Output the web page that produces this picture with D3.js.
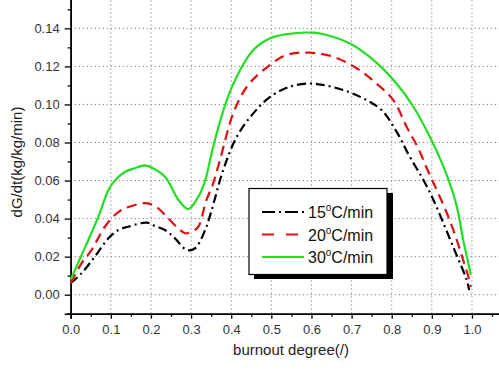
<!DOCTYPE html>
<html>
<head>
<meta charset="utf-8">
<script src="https://cdn.jsdelivr.net/npm/d3@7"></script>
<style>
  body { margin: 0; background: #fff; }
  svg { display: block; font-family: "Liberation Sans", Arial, sans-serif; }
</style>
</head>
<body>
<div id="chart"></div>
<script>
// burnout degree / rate readings for each heating rate
var burnout15 = [0, 0.027, 0.06, 0.094, 0.119, 0.143, 0.189, 0.21, 0.235, 0.26, 0.289, 0.31, 0.335, 0.35, 0.38, 0.414, 0.455, 0.497, 0.546, 0.596, 0.63, 0.679, 0.729, 0.775, 0.812, 0.845, 0.879, 0.904, 0.929, 0.953, 0.974, 0.987, 0.993];
var rate15 = [0.006, 0.0112, 0.020, 0.0296, 0.034, 0.0357, 0.0379, 0.0361, 0.034, 0.0296, 0.0235, 0.0244, 0.034, 0.0435, 0.0655, 0.083, 0.0953, 0.104, 0.1093, 0.111, 0.1102, 0.1076, 0.1032, 0.097, 0.0857, 0.0725, 0.0603, 0.0498, 0.0375, 0.0252, 0.0147, 0.0077, 0.0025];

var burnout20 = [0, 0.027, 0.052, 0.085, 0.115, 0.135, 0.177, 0.193, 0.218, 0.235, 0.268, 0.285, 0.30, 0.318, 0.337, 0.355, 0.372, 0.405, 0.439, 0.48, 0.538, 0.596, 0.654, 0.713, 0.762, 0.804, 0.837, 0.866, 0.891, 0.916, 0.941, 0.962, 0.978, 0.991, 0.997];
var rate20 = [0.006, 0.0165, 0.0235, 0.0357, 0.0428, 0.0454, 0.048, 0.048, 0.0454, 0.0419, 0.0349, 0.0323, 0.033, 0.0357, 0.049, 0.0585, 0.0708, 0.0953, 0.1093, 0.118, 0.126, 0.1272, 0.1251, 0.119, 0.111, 0.1023, 0.0883, 0.077, 0.0647, 0.0533, 0.041, 0.0288, 0.0182, 0.0095, 0.004];

var burnout30 = [0, 0.036, 0.069, 0.094, 0.11, 0.135, 0.16, 0.185, 0.2, 0.235, 0.268, 0.293, 0.318, 0.335, 0.355, 0.389, 0.422, 0.455, 0.497, 0.538, 0.605, 0.638, 0.696, 0.754, 0.812, 0.854, 0.895, 0.929, 0.953, 0.966, 0.978, 0.991, 0.997];
var rate30 = [0.008, 0.025, 0.041, 0.055, 0.060, 0.0645, 0.0665, 0.068, 0.067, 0.062, 0.050, 0.045, 0.0515, 0.060, 0.0778, 0.1023, 0.118, 0.1286, 0.1348, 0.137, 0.1377, 0.1365, 0.132, 0.1234, 0.111, 0.0988, 0.083, 0.0673, 0.0533, 0.0428, 0.0288, 0.0165, 0.0104];

var seriesNames = ["15", "20", "30"];
var xTicks = [0, 0.1, 0.2, 0.3, 0.4, 0.5, 0.6, 0.7, 0.8, 0.9, 1.0];
var yTicks = [0, 0.02, 0.04, 0.06, 0.08, 0.10, 0.12, 0.14];

var svgWidth = 499;
var svgHeight = 372;

var svg = d3.select("#chart")
    .append("svg")
    .attr("width", svgWidth)
    .attr("height", svgHeight);

// plot is cut off at the top and right edge of the picture
var x = d3.scaleLinear().domain([0, 1.1]).range([70.7, 512.1]);
var y = d3.scaleLinear().domain([-0.01, 0.16]).range([313.7, -9.7]);

// dotted grid
svg.append("g")
    .selectAll("line")
    .data(xTicks.filter(d => d > 0))
    .enter()
    .append("line")
    .attr("x1", d => x(d)).attr("x2", d => x(d))
    .attr("y1", y(-0.01)).attr("y2", 0)
    .attr("stroke", "#8a8a8a")
    .attr("stroke-width", 1)
    .attr("stroke-dasharray", "1.3,2.7");

svg.append("g")
    .selectAll("line")
    .data(yTicks)
    .enter()
    .append("line")
    .attr("x1", x(0)).attr("x2", svgWidth)
    .attr("y1", d => y(d)).attr("y2", d => y(d))
    .attr("stroke", "#8a8a8a")
    .attr("stroke-width", 1)
    .attr("stroke-dasharray", "1.3,2.7");

// axes
var bottomAxis = d3.axisBottom(x).tickValues(xTicks).tickFormat(d3.format(".1f")).tickSize(5).tickPadding(6);
var bottomMinor = d3.axisBottom(x).tickValues(d3.range(0.05, 1.1, 0.1)).tickFormat("").tickSize(3);
var leftAxis = d3.axisLeft(y).tickValues(yTicks).tickFormat(d3.format(".2f")).tickSize(6).tickPadding(5);
var leftMinor = d3.axisLeft(y).tickValues(d3.range(-0.01, 0.17, 0.02)).tickFormat("").tickSize(3);

var xAxisG = svg.append("g").attr("transform", `translate(0, ${y(-0.01)})`).call(bottomAxis);
svg.append("g").attr("transform", `translate(0, ${y(-0.01)})`).call(bottomMinor);
var yAxisG = svg.append("g").attr("transform", `translate(${x(0)}, 0)`).call(leftAxis);
svg.append("g").attr("transform", `translate(${x(0)}, 0)`).call(leftMinor);

svg.selectAll(".domain").attr("stroke", "#000").attr("stroke-width", 1.6);
svg.selectAll(".tick line").attr("stroke", "#000").attr("stroke-width", 1.3);
xAxisG.selectAll("text").attr("font-size", 13).attr("fill", "#333");
yAxisG.selectAll("text").attr("font-size", 13).attr("fill", "#333");

// axis titles
svg.append("text")
    .attr("x", 291)
    .attr("y", 355)
    .attr("text-anchor", "middle")
    .attr("font-size", 15)
    .attr("fill", "#222")
    .text("burnout degree(/)");

svg.append("text")
    .attr("transform", "translate(22, 162) rotate(-90)")
    .attr("text-anchor", "middle")
    .attr("font-size", 15)
    .attr("fill", "#222")
    .text("dG/dt(kg/kg/min)");

// curves
var styles = {
    "15": { color: "#000", dash: "9,4,2,4" },
    "20": { color: "#dd1111", dash: "10,6" },
    "30": { color: "#22dd22", dash: null }
};
var curveData = {
    "15": burnout15.map((b, i) => [b, rate15[i]]),
    "20": burnout20.map((b, i) => [b, rate20[i]]),
    "30": burnout30.map((b, i) => [b, rate30[i]])
};

var line = d3.line()
    .x(d => x(d[0]))
    .y(d => y(d[1]))
    .curve(d3.curveCatmullRom);

seriesNames.forEach(function(name) {
    svg.append("path")
        .datum(curveData[name])
        .attr("d", line)
        .attr("fill", "none")
        .attr("stroke", styles[name].color)
        .attr("stroke-width", 2.2)
        .attr("stroke-dasharray", styles[name].dash);
});

// legend with drop shadow
var legend = svg.append("g");
legend.append("rect")
    .attr("x", 254).attr("y", 193)
    .attr("width", 139).attr("height", 86)
    .attr("fill", "#000");
legend.append("rect")
    .attr("x", 249).attr("y", 188.5)
    .attr("width", 138).attr("height", 86)
    .attr("fill", "#fff")
    .attr("stroke", "#000")
    .attr("stroke-width", 1.2);

seriesNames.forEach(function(name, i) {
    var ly = 212 + i * 22.5;
    legend.append("line")
        .attr("x1", 262).attr("x2", 304)
        .attr("y1", ly).attr("y2", ly)
        .attr("stroke", styles[name].color)
        .attr("stroke-width", 2.2)
        .attr("stroke-dasharray", name === "15" ? "13,4,2,4" : (name === "20" ? "12,12" : null));
    var t = legend.append("text")
        .attr("x", 308)
        .attr("y", ly + 6)
        .attr("font-size", 16)
        .attr("fill", "#111");
    t.append("tspan").text(name);
    t.append("tspan").attr("font-size", 10).attr("dy", -7).text("o");
    t.append("tspan").attr("dy", 7).text("C/min");
});
</script>
</body>
</html>
